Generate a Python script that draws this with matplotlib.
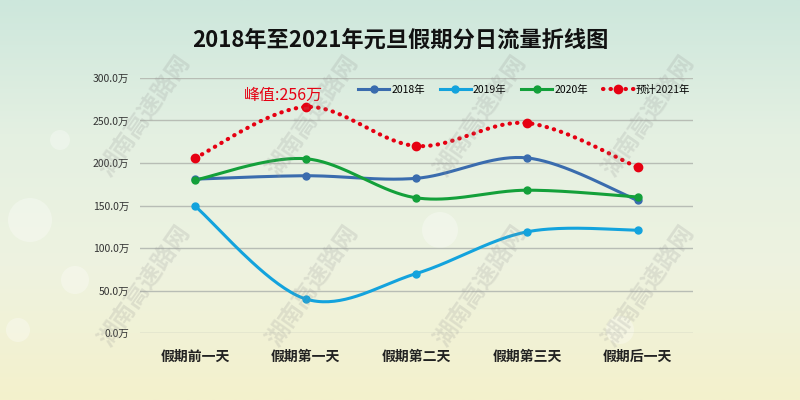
import numpy as np
import matplotlib
matplotlib.use("Agg")
from matplotlib import pyplot as plt
from matplotlib.colors import LinearSegmentedColormap

plt.rcParams['font.family'] = ['Noto Sans CJK SC', 'DejaVu Sans']

# Data (万)
days = ["假期前一天", "假期第一天", "假期第二天", "假期第三天", "假期后一天"]
flow_2018 = [181, 185, 182, 206, 156]
flow_2019 = [149, 40, 70, 119, 121]
flow_2020 = [180, 205, 159, 168, 160]
flow_2021 = [206, 266, 220, 247, 195]
peak_label = "峰值:256万"
yticks = [0, 50, 100, 150, 200, 250, 300]


def smooth(xs, ys, n=40):
    # excel style bezier smoothing
    p = np.column_stack([xs, ys]).astype(float)
    p = np.vstack([p[0], p, p[-1]])
    out = []
    for i in range(1, len(p) - 2):
        p0, p1, p2, p3 = p[i - 1], p[i], p[i + 1], p[i + 2]
        c1 = p1 + (p2 - p0) / 6
        c2 = p2 - (p3 - p1) / 6
        t = np.linspace(0, 1, n)[:, None]
        seg = (1 - t) ** 3 * p1 + 3 * (1 - t) ** 2 * t * c1 + 3 * (1 - t) * t ** 2 * c2 + t ** 3 * p2
        out.append(seg)
    out = np.vstack(out)
    return out[:, 0], out[:, 1]


fig = plt.figure(figsize=(8, 4), dpi=100)

# background gradient (pixel coords)
bg = fig.add_axes([0, 0, 1, 1], zorder=-2)
cmap = LinearSegmentedColormap.from_list("bg", ["#cde7dc", "#e4f0e2", "#eef3e0", "#f4f1cc"])
grad = np.linspace(0, 1, 256)[:, None]
bg.imshow(grad, aspect="auto", cmap=cmap, extent=[0, 800, 0, 400])
for cx, cy, r in [(30, 180, 22), (75, 120, 14), (18, 70, 12), (440, 170, 18), (620, 70, 14), (60, 260, 10)]:
    bg.add_patch(plt.Circle((cx, cy), r, color="white", alpha=0.3, lw=0))
bg.set_xlim(0, 800)
bg.set_ylim(0, 400)
bg.axis("off")

# watermarks
for cx in [0.18, 0.39, 0.6, 0.81]:
    for cy in [0.71, 0.285]:
        fig.text(cx, cy, "湖南高速路网", rotation=55, fontsize=17, fontweight="bold",
                 color="#909090", alpha=0.2, ha="center", va="center", zorder=5)

ax = fig.add_axes([0.175, 0.1675, 0.691, 0.6375])
ax.patch.set_alpha(0)
x = np.arange(len(days))

series = [
    ("2018年", flow_2018, "#3a6cae"),
    ("2019年", flow_2019, "#13a3dd"),
    ("2020年", flow_2020, "#13a03a"),
]
for name, vals, col in series:
    sx, sy = smooth(x, vals)
    ax.plot(sx, sy, color=col, lw=2.2, zorder=3)
    ax.plot(x, vals, "o", color=col, ms=5, zorder=4)
    ax.plot([], [], color=col, lw=2.2, marker="o", ms=5, label=name)

red = "#e60012"
dots = (0, (0.1, 1.7))
sx, sy = smooth(x, flow_2021)
ax.plot(sx, sy, color=red, lw=3, ls=dots, dash_capstyle="round", zorder=3)
ax.plot(x, flow_2021, "o", color=red, ms=6, zorder=4)
ax.plot([], [], color=red, lw=3, ls=dots, dash_capstyle="round",
        marker="o", ms=6, label="预计2021年")

ax.annotate(peak_label, xy=(1, flow_2021[1]), xytext=(-22, 12), textcoords="offset pixels",
            ha="center", va="center", color=red, fontsize=11.5)

ax.set_xlim(-0.5, len(days) - 0.5)
ax.set_ylim(0, 300)
ax.set_yticks(yticks)
ax.set_yticklabels([f"{v:.1f}万" for v in yticks], fontsize=7.5, color="#333333")
ax.set_xticks(x)
ax.set_xticklabels(days, fontsize=10, fontweight="bold", color="#222222")
ax.tick_params(axis="y", length=0, pad=8)
ax.tick_params(axis="x", length=0, pad=12)
ax.grid(axis="y", color="#b8bdb5", lw=1)
ax.set_axisbelow(True)
for s in ax.spines.values():
    s.set_visible(False)

ax.legend(loc="center", bbox_to_anchor=(0.695, 0.955), ncol=4, frameon=False, fontsize=7.5,
          handlelength=3.0, handletextpad=0.2, columnspacing=1.4)

fig.text(0.5, 0.9, "2018年至2021年元旦假期分日流量折线图", ha="center", va="center",
         fontsize=16, fontweight="bold", color="#111111")

fig.savefig("out.png", dpi=100)
